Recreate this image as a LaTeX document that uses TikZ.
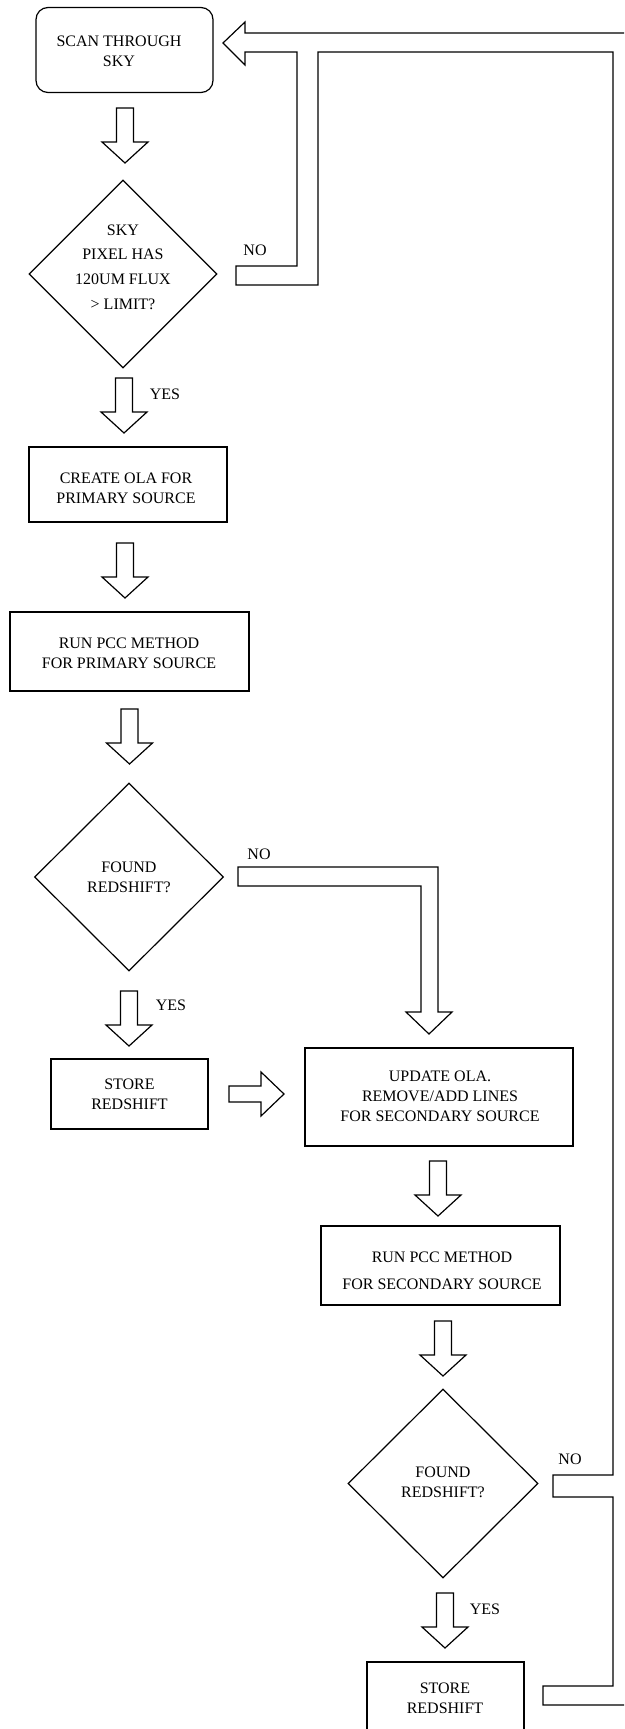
\documentclass[tikz,border=0pt]{standalone}
\usepackage{fontspec}
\setmainfont{Liberation Serif}
\usetikzlibrary{shapes.geometric}
\begin{document}
\begin{tikzpicture}[x=1pt,y=-1pt,line width=1.2pt,line join=miter,
  font=\fontsize{16}{20}\selectfont,
  box/.style={draw,rectangle,inner sep=0pt},
  dia/.style={draw,diamond,aspect=1,inner sep=0pt},
  txt/.style={align=center,inner sep=0pt},
  lbl/.style={inner sep=0pt},
  downarrow/.pic={\draw (-8.5,0) -- (-8.5,34) -- (-23,34) -- (0,55) -- (23,34) -- (8.5,34) -- (8.5,0) -- cycle;},
  rightarrow/.pic={\draw (0,-8) -- (32,-8) -- (32,-22) -- (55,0) -- (32,22) -- (32,8) -- (0,8) -- cycle;}]
\useasboundingbox (0,0) rectangle (624,1729);
\clip (0,0) rectangle (624,1729);

% boxes
\node[box,rounded corners=12pt,minimum width=177pt,minimum height=85pt] (scan) at (124.5,50) {};
\node[txt] (scant) at (119,51.5) {SCAN THROUGH\\SKY};

\node[dia,minimum width=188pt,minimum height=188pt] (d1) at (123,274) {};
\node[txt,font=\fontsize{16}{24.7}\selectfont] (d1t) at (123,267) {SKY\\PIXEL HAS\\120UM FLUX\\> LIMIT?};
\node[lbl] (no1) at (255,250) {NO};

\node[box,minimum width=198pt,minimum height=75pt] (create) at (128,484.5) {};
\node[txt] (createt) at (126,488) {CREATE OLA FOR\\PRIMARY SOURCE};

\node[box,minimum width=239pt,minimum height=79pt] (run1) at (129.5,651.5) {};
\node[txt] (run1t) at (129,653) {RUN PCC METHOD\\FOR PRIMARY SOURCE};

\node[dia,minimum width=189pt,minimum height=188pt] (d2) at (129,877) {};
\node[txt] (d2t) at (129,877) {FOUND\\REDSHIFT?};
\node[lbl] (no2) at (259,854) {NO};

\node[box,minimum width=157pt,minimum height=70pt] (store1) at (129.5,1094) {};
\node[txt] (store1t) at (129.5,1094.5) {STORE\\REDSHIFT};

\node[box,minimum width=268pt,minimum height=98pt] (update) at (439,1097) {};
\node[txt] (updatet) at (440,1096) {UPDATE OLA.\\REMOVE/ADD LINES\\FOR SECONDARY SOURCE};

\node[box,minimum width=239pt,minimum height=79pt] (run2) at (440.5,1265.5) {};
\node[txt,font=\fontsize{16}{27}\selectfont] (run2t) at (442,1270.5) {RUN PCC METHOD\\FOR SECONDARY SOURCE};

\node[dia,minimum width=190pt,minimum height=189pt] (d3) at (443,1483.5) {};
\node[txt] (d3t) at (443,1482.5) {FOUND\\REDSHIFT?};
\node[lbl] (no3) at (570,1459) {NO};

\node[box,minimum width=157pt,minimum height=98pt] (store2) at (445.5,1711) {};
\node[txt] (store2t) at (445,1698.5) {STORE\\REDSHIFT};

\node[lbl] (yes1) at (165,394) {YES};
\node[lbl] (yes2) at (171,1005) {YES};
\node[lbl] (yes3) at (485,1609) {YES};

% block arrows
\pic at (125,108) {downarrow};
\pic at (124,378) {downarrow};
\pic at (125,543) {downarrow};
\pic at (129.5,709) {downarrow};
\pic at (129,991) {downarrow};
\pic at (438,1161) {downarrow};
\pic at (443,1321) {downarrow};
\pic at (445,1593) {downarrow};
\pic at (229,1094) {rightarrow};

% NO branch of first decision and return channel
\draw (640,33) -- (245,33) -- (245,22) -- (223,43) -- (245,65) -- (245,52)
  -- (297,52) -- (297,266) -- (236,266) -- (236,285) -- (318,285) -- (318,52)
  -- (613,52) -- (613,1475) -- (553,1475) -- (553,1497) -- (613,1497)
  -- (613,1686) -- (543,1686) -- (543,1705) -- (640,1705);

% NO branch of second decision
\draw (238,867) -- (438,867) -- (438,1012) -- (452,1012) -- (429,1034)
  -- (406,1012) -- (421,1012) -- (421,886) -- (238,886) -- cycle;
\end{tikzpicture}
\end{document}
